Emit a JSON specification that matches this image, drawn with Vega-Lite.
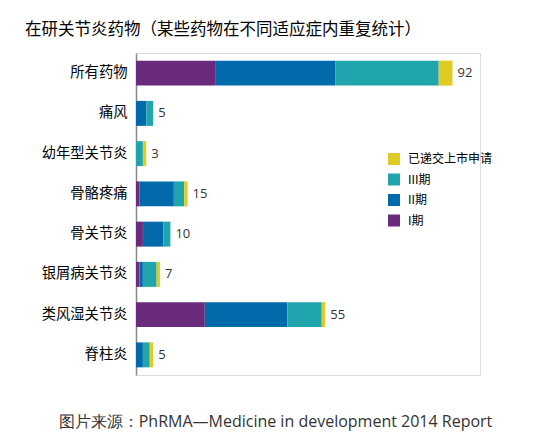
{
  "$schema": "https://vega.github.io/schema/vega-lite/v6.json",
  "autosize": {"type": "none"},
  "padding": {"left": 136, "top": 53, "right": 64, "bottom": 69},
  "width": 344,
  "height": 322,
  "background": "white",
  "title": {
    "text": "在研关节炎药物（某些药物在不同适应症内重复统计）",
    "anchor": "start",
    "frame": "group",
    "dx": -111,
    "offset": 15,
    "font": "Noto Sans CJK SC",
    "fontSize": 16.5,
    "fontWeight": "normal",
    "color": "#000000"
  },
  "data": {
    "values": [
      {"category": "所有药物", "stage": "I期", "phase": 1, "count": 23},
      {"category": "所有药物", "stage": "II期", "phase": 2, "count": 35},
      {"category": "所有药物", "stage": "III期", "phase": 3, "count": 30},
      {"category": "所有药物", "stage": "已递交上市申请", "phase": 4, "count": 4},
      {"category": "痛风", "stage": "II期", "phase": 2, "count": 3},
      {"category": "痛风", "stage": "III期", "phase": 3, "count": 2},
      {"category": "幼年型关节炎", "stage": "III期", "phase": 3, "count": 2},
      {"category": "幼年型关节炎", "stage": "已递交上市申请", "phase": 4, "count": 1},
      {"category": "骨骼疼痛", "stage": "I期", "phase": 1, "count": 1},
      {"category": "骨骼疼痛", "stage": "II期", "phase": 2, "count": 10},
      {"category": "骨骼疼痛", "stage": "III期", "phase": 3, "count": 3},
      {"category": "骨骼疼痛", "stage": "已递交上市申请", "phase": 4, "count": 1},
      {"category": "骨关节炎", "stage": "I期", "phase": 1, "count": 2},
      {"category": "骨关节炎", "stage": "II期", "phase": 2, "count": 6},
      {"category": "骨关节炎", "stage": "III期", "phase": 3, "count": 2},
      {"category": "银屑病关节炎", "stage": "I期", "phase": 1, "count": 1},
      {"category": "银屑病关节炎", "stage": "II期", "phase": 2, "count": 1},
      {"category": "银屑病关节炎", "stage": "III期", "phase": 3, "count": 4},
      {"category": "银屑病关节炎", "stage": "已递交上市申请", "phase": 4, "count": 1},
      {"category": "类风湿关节炎", "stage": "I期", "phase": 1, "count": 20},
      {"category": "类风湿关节炎", "stage": "II期", "phase": 2, "count": 24},
      {"category": "类风湿关节炎", "stage": "III期", "phase": 3, "count": 10},
      {"category": "类风湿关节炎", "stage": "已递交上市申请", "phase": 4, "count": 1},
      {"category": "脊柱炎", "stage": "II期", "phase": 2, "count": 2},
      {"category": "脊柱炎", "stage": "III期", "phase": 3, "count": 2},
      {"category": "脊柱炎", "stage": "已递交上市申请", "phase": 4, "count": 1}
    ]
  },
  "encoding": {
    "y": {
      "field": "category",
      "type": "nominal",
      "sort": ["所有药物", "痛风", "幼年型关节炎", "骨骼疼痛", "骨关节炎", "银屑病关节炎", "类风湿关节炎", "脊柱炎"],
      "scale": {"paddingInner": 0.38, "paddingOuter": 0.19},
      "axis": {
        "title": null,
        "ticks": false,
        "domainColor": "#8a8a8a",
        "domainWidth": 1.5,
        "labelFont": "Noto Sans CJK SC",
        "labelFontSize": 14.3,
        "labelColor": "#000000",
        "labelPadding": 9
      }
    }
  },
  "layer": [
    {
      "mark": {"type": "bar"},
      "encoding": {
        "x": {
          "field": "count",
          "type": "quantitative",
          "aggregate": "sum",
          "stack": "zero",
          "scale": {"domain": [0, 100]},
          "axis": {
            "title": "图片来源：PhRMA—Medicine in development 2014 Report",
            "titleFont": "Open Sans",
            "titleFontSize": 16,
            "titleFontWeight": "normal",
            "titleColor": "#333333",
            "titleX": 139,
            "titleY": 51,
            "titleAlign": "center",
            "titleBaseline": "alphabetic",
            "domain": false,
            "labels": false,
            "ticks": false,
            "grid": false
          }
        },
        "color": {
          "field": "stage",
          "type": "nominal",
          "scale": {
            "domain": ["已递交上市申请", "III期", "II期", "I期"],
            "range": ["#e0cb24", "#21a5ad", "#016aaa", "#6a2b7c"]
          },
          "legend": {
            "title": null,
            "orient": "none",
            "legendX": 252,
            "legendY": 100,
            "symbolType": "square",
            "symbolSize": 144,
            "symbolStrokeWidth": 0,
            "symbolOpacity": 1,
            "labelFont": "Noto Sans CJK SC",
            "labelFontSize": 12,
            "labelColor": "#000000",
            "labelOffset": 8,
            "labelLimit": 200,
            "rowPadding": 8.5
          }
        },
        "order": {"field": "phase", "type": "quantitative", "sort": "ascending"}
      }
    },
    {
      "mark": {"type": "text", "align": "left", "baseline": "middle", "dx": 5, "font": "Open Sans", "fontSize": 13, "color": "#333333"},
      "encoding": {
        "x": {"field": "count", "type": "quantitative", "aggregate": "sum"},
        "text": {"field": "count", "type": "quantitative", "aggregate": "sum"}
      }
    }
  ]
}
